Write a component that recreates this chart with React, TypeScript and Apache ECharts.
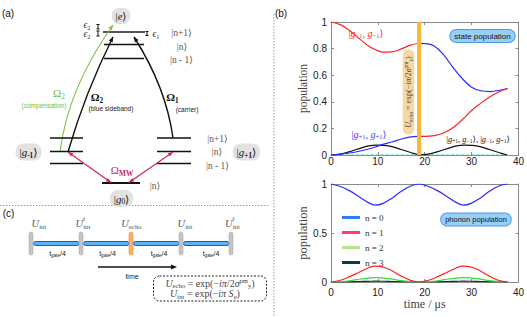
import React, { useEffect, useRef } from "react";
import * as echarts from "echarts";

const SERIF = "'Liberation Serif', 'DejaVu Serif', serif";
const SANS = "'Liberation Sans', 'DejaVu Sans', Arial, sans-serif";

// ---------- panel (b), top: state populations ----------
const timeTicks = [0, 10, 20, 30, 40];
const echoTime = 18.8;
const stateTimeFirst = [0, 2, 4, 6, 8, 9.6, 11, 13, 15, 17, 18.8];
const redFirst = [1, 0.98, 0.935, 0.875, 0.82, 0.79, 0.774, 0.776, 0.798, 0.826, 0.84];
const blueFirst = [0, 0.006, 0.015, 0.028, 0.045, 0.062, 0.08, 0.098, 0.12, 0.136, 0.14];
const blackFirst = [0, 0.007, 0.025, 0.048, 0.068, 0.075, 0.073, 0.063, 0.041, 0.019, 0];
const stateTimeSecond = [18.8, 20, 22, 24, 26, 28, 30, 32, 34, 36, 37.7];
const redSecond = [0.14, 0.14, 0.145, 0.165, 0.205, 0.265, 0.335, 0.39, 0.44, 0.478, 0.5];
const blueSecond = [0.84, 0.838, 0.82, 0.755, 0.66, 0.575, 0.51, 0.483, 0.477, 0.487, 0.5];
const blackTimeSecond = [18.8, 20.8, 22.8, 24.8, 26.8, 28.4, 29.8, 31.8, 33.8, 35.8, 37.6];
const blackSecond = [0, 0.007, 0.025, 0.048, 0.068, 0.075, 0.073, 0.063, 0.041, 0.019, 0];
const baselineTime = [0, 37.7];
const baselineValue = [0, 0];
const echoSpan = [0, 1];

// ---------- panel (b), bottom: phonon populations ----------
const phononTime = [0, 2, 4, 6, 8, 9.4, 11, 13, 15, 17, 18.8, 20.8, 22.8, 24.8, 26.8, 28.2, 29.8, 31.8, 33.8, 35.8, 37.7];
const n0 = [1, 0.975, 0.93, 0.87, 0.81, 0.785, 0.8, 0.855, 0.925, 0.98, 1, 0.975, 0.93, 0.87, 0.81, 0.785, 0.8, 0.855, 0.925, 0.98, 1];
const n1 = [0, 0.018, 0.055, 0.1, 0.145, 0.162, 0.155, 0.115, 0.06, 0.017, 0, 0.018, 0.055, 0.1, 0.145, 0.162, 0.155, 0.115, 0.06, 0.017, 0];
const n2 = [0, 0.004, 0.013, 0.028, 0.04, 0.045, 0.042, 0.03, 0.014, 0.004, 0, 0.004, 0.013, 0.028, 0.04, 0.045, 0.042, 0.03, 0.014, 0.004, 0];
const n3 = [0, 0.0005, 0.002, 0.005, 0.007, 0.008, 0.0075, 0.005, 0.002, 0.0005, 0, 0.0005, 0.002, 0.005, 0.007, 0.008, 0.0075, 0.005, 0.002, 0.0005, 0];
const phononNames = ["n = 0", "n = 1", "n = 2", "n = 3"];
const phononCurveColors = ["#2b2bff", "#ff2222", "#33dd33", "#0b2a30"];
const phononLegendColors = ["#2f7bf7", "#ff3d6e", "#b5e68f", "#0c3b48"];

const zip = (xs: number[], ys: number[]) => xs.map((x, i) => [x, ys[i]]);

function rich(size: number, color: string, family = SERIF) {
  const lh = Math.round(size * 1.2 * 10) / 10;
  const sub = Math.round(size * 0.66 * 10) / 10;
  return {
    n: { fontFamily: family, fontSize: size, fill: color, lineHeight: lh },
    i: { fontFamily: family, fontSize: size, fill: color, fontStyle: "italic", lineHeight: lh },
    b: { fontFamily: family, fontSize: size, fill: color, fontWeight: "bold", lineHeight: lh },
    s: { fontFamily: family, fontSize: sub, fill: color, verticalAlign: "bottom", lineHeight: sub },
    sb: { fontFamily: family, fontSize: sub, fill: color, fontWeight: "bold", verticalAlign: "bottom", lineHeight: sub },
    sup: { fontFamily: family, fontSize: sub, fill: color, verticalAlign: "top", lineHeight: sub },
  };
}

const txt = (x: number, y: number, text: string, style: any = {}, extra: any = {}) => ({
  type: "text",
  x,
  y,
  silent: true,
  ...extra,
  style: { text, align: "center", verticalAlign: "middle", ...style },
});
const mtxt = (x: number, y: number, text: string, size: number, color: string, style: any = {}, extra: any = {}) =>
  txt(x, y, text, { rich: rich(size, color), fontFamily: SERIF, fontSize: size, fill: color, ...style }, extra);
const ln = (x1: number, y1: number, x2: number, y2: number, stroke = "#111", lineWidth = 1.5, style: any = {}) => ({
  type: "line",
  silent: true,
  shape: { x1, y1, x2, y2 },
  style: { stroke, lineWidth, ...style },
});
const head = (tx: number, ty: number, fx: number, fy: number, color: string, len = 5, wid = 2.2) => {
  const dx = tx - fx, dy = ty - fy;
  const d = Math.hypot(dx, dy);
  const ux = dx / d, uy = dy / d;
  const bx = tx - ux * len, by = ty - uy * len;
  return {
    type: "polygon",
    silent: true,
    shape: { points: [[tx, ty], [bx - uy * wid, by + ux * wid], [bx + uy * wid, by - ux * wid]] },
    style: { fill: color },
  };
};
const curve = (x1: number, y1: number, cx: number, cy: number, x2: number, y2: number, color: string, w = 1.4) => [
  { type: "bezierCurve", silent: true, shape: { x1, y1, x2, y2, cpx1: cx, cpy1: cy }, style: { stroke: color, lineWidth: w, fill: null } },
  head(x2, y2, cx, cy, color),
];
const dblArrow = (x1: number, y1: number, x2: number, y2: number, color: string) => [
  ln(x1, y1, x2, y2, color, 1.2),
  head(x1, y1, x2, y2, color, 5, 2),
  head(x2, y2, x1, y1, color, 5, 2),
];
const pill = (x: number, y: number, text: string, size: number) =>
  mtxt(x, y, text, size, "#111", { backgroundColor: "#e2e2e2", borderRadius: 8, padding: [2, 4, 2, 4] });

function buildGraphic() {
  const g: any[] = [];
  // separators
  g.push(ln(274, 14, 274, 317, "#999", 1, { lineDash: [1.5, 1.5] }));
  g.push(ln(0, 205.5, 268, 205.5, "#999", 1, { lineDash: [1.5, 1.5] }));
  // panel labels
  g.push(txt(8, 13, "(a)", { fontFamily: SANS, fontSize: 10, fill: "#111" }));
  g.push(txt(281, 13, "(b)", { fontFamily: SANS, fontSize: 10, fill: "#111" }));
  g.push(txt(8.5, 213, "(c)", { fontFamily: SANS, fontSize: 10, fill: "#111" }));

  // ---- panel (a) ----
  g.push(pill(121, 16, "{n||}{i|e}{n|⟩}", 10.5));
  g.push(ln(103, 32, 145, 32, "#555", 2));
  g.push(ln(104, 44.5, 144, 44.5, "#111", 1.5));
  g.push(ln(104, 58.5, 144, 58.5, "#111", 1.5));
  // epsilon markers
  const ibar = (x: number, y1: number, y2: number) => [
    ln(x, y1, x, y2, "#111", 1),
    ln(x - 1.5, y1, x + 1.5, y1, "#111", 1),
    ln(x - 1.5, y2, x + 1.5, y2, "#111", 1),
  ];
  g.push(...ibar(98, 24.5, 29), ...ibar(98, 31, 36), ...ibar(147, 31.5, 35.5));
  g.push(mtxt(87, 25, "{i|ϵ}{s|2}", 9.5, "#333"));
  g.push(mtxt(87, 34, "{i|ϵ}{s|2}", 9.5, "#333"));
  g.push(mtxt(156, 34, "{i|ϵ}{s|1}", 9.5, "#333"));
  g.push(txt(181.5, 33, "|n+1⟩", { fontFamily: SERIF, fontSize: 9.5, fill: "#555" }));
  g.push(txt(182, 46.5, "|n⟩", { fontFamily: SERIF, fontSize: 9.5, fill: "#555" }));
  g.push(txt(181.5, 60, "|n - 1⟩", { fontFamily: SERIF, fontSize: 9.5, fill: "#555" }));
  // arrows
  g.push(...curve(60, 152, 68, 88, 113, 25, "#7cc444", 1.1));
  g.push(...curve(68, 152, 85, 93, 113, 37, "#111", 1.4));
  g.push(...curve(173, 138, 166, 87, 134, 37, "#111", 1.4));
  g.push(mtxt(59, 93, "{n|Ω}{s|2}", 11, "#6cbf3f"));
  g.push(txt(44, 105, "(compensation)", { fontFamily: SANS, fontSize: 6.5, fill: "#6cbf3f" }));
  g.push(mtxt(97, 97, "{b|Ω}{sb|2}", 11, "#111"));
  g.push(txt(111, 108.5, "(blue sideband)", { fontFamily: SANS, fontSize: 6.5, fill: "#222" }));
  g.push(mtxt(172.5, 97, "{b|Ω}{sb|1}", 11, "#111"));
  g.push(txt(187, 109, "(carrier)", { fontFamily: SANS, fontSize: 6.5, fill: "#222" }));
  // ground levels
  for (const y of [138, 151.5, 163.5]) {
    g.push(ln(50, y, 83, y, "#111", 1.5));
    g.push(ln(157, y, 191, y, "#111", 1.5));
  }
  g.push(ln(102, 183, 140, 183, "#111", 2));
  g.push(pill(28.5, 152, "{n||}{i|g}{sb|-1}{n|⟩}", 11));
  g.push(pill(246.5, 152, "{n||}{i|g}{sb|+1}{n|⟩}", 11));
  g.push(txt(217.5, 139, "|n+1⟩", { fontFamily: SERIF, fontSize: 9.5, fill: "#555" }));
  g.push(txt(217, 152, "|n⟩", { fontFamily: SERIF, fontSize: 9.5, fill: "#555" }));
  g.push(txt(217.5, 166, "|n - 1⟩", { fontFamily: SERIF, fontSize: 9.5, fill: "#555" }));
  g.push(txt(155, 186, "|n⟩", { fontFamily: SERIF, fontSize: 9.5, fill: "#555" }));
  g.push(pill(121.5, 198.5, "{n||}{i|g}{s|0}{n|⟩}", 11));
  g.push(...dblArrow(68, 152, 111, 182.5, "#c7285d"));
  g.push(...dblArrow(173, 152, 129, 182.5, "#c7285d"));
  g.push(mtxt(122, 170, "{n|Ω}{sb|MW}", 11, "#c7285d"));

  // ---- panel (c) ----
  const barY = 241.5, barH = 4;
  const segs = [[33.5, 79], [83.5, 129], [133.5, 179], [183.5, 229]];
  for (const [a, b] of segs) {
    g.push({ type: "rect", silent: true, shape: { x: a, y: barY, width: b - a, height: barH, r: 2 }, style: { fill: "#5fb2f2", stroke: "#1558d6", lineWidth: 1 } });
  }
  const posts = [31, 81, 131, 181, 231];
  posts.forEach((x, i) => {
    const orange = i === 2;
    g.push({ type: "rect", silent: true, shape: { x: x - 2, y: 232, width: 4, height: 23, r: 2 }, style: { fill: orange ? "#f9b067" : "#c4c4c4", stroke: orange ? "#f0903a" : "#b0b0b0", lineWidth: 0.6 } });
  });
  g.push(mtxt(39, 223.5, "{i|U}{s|int}", 10.5, "#555"));
  g.push(mtxt(83, 223.5, "{i|U}{s|int}", 10.5, "#555"));
  g.push(txt(84, 218.5, "†", { fontFamily: SERIF, fontSize: 7, fill: "#555" }));
  g.push(mtxt(131.5, 223.5, "{i|U}{s|echo}", 10.5, "#555"));
  g.push(mtxt(185, 223.5, "{i|U}{s|int}", 10.5, "#555"));
  g.push(mtxt(232.5, 223.5, "{i|U}{s|int}", 10.5, "#555"));
  g.push(txt(233.5, 218.5, "†", { fontFamily: SERIF, fontSize: 7, fill: "#555" }));
  const tg = { rich: rich(7, "#222", SANS), fontFamily: SANS, fontSize: 7, fill: "#222" };
  for (const cx of [57.5, 107.5, 159, 211]) g.push(txt(cx, 253.5, "{n|t}{s|gate}{n|/4}", tg));
  g.push(ln(98, 267, 172, 267, "#111", 1.5));
  g.push(head(177, 267, 98, 267, "#111", 6, 2.6));
  g.push(txt(132, 276, "time", { fontFamily: SANS, fontSize: 7, fill: "#222" }));
  g.push({ type: "rect", silent: true, shape: { x: 153.5, y: 276, width: 113, height: 25, r: 6 }, style: { fill: null, stroke: "#222", lineWidth: 1, lineDash: [2, 1.5] } });
  g.push(mtxt(210, 283, "{i|U}{s|echo}{n| = exp(−}{i|iπ}{n|/2}{i|σ}{sup|pm}{s|y}{n|)}", 10, "#444"));
  g.push(mtxt(205, 293.5, "{i|U}{s|int}{n| = exp(−}{i|iπ S}{s|e}{n|)}", 10, "#444"));

  // ---- panel (b) annotations ----
  g.push(mtxt(366, 33, "{n||}{i|g}{s|−1}{n|, }{i|g}{s|−1}{n|⟩}", 10, "#ff2222"));
  g.push(mtxt(369, 134, "{n||}{i|g}{s|+1}{n|, }{i|g}{s|+1}{n|⟩}", 10, "#3a3aff"));
  g.push(mtxt(478, 138.5, "{n||}{i|g}{s|+1}{n|, }{i|g}{s|−1}{n|⟩, |}{i|g}{s|−1}{n|, }{i|g}{s|+1}{n|⟩}", 8.5, "#111"));
  g.push(mtxt(408.5, 92, "{i|U}{s|echo}{n| = exp(−}{i|iπ}{n|/2}{i|σ}{sup|pm}{s|y}{n|)}", 8, "#444",
    { backgroundColor: "#f6d8a4", borderRadius: 6, padding: [1, 7, 1, 7] }, { rotation: Math.PI / 2 }));
  g.push(txt(482.5, 36, "state population", { fontFamily: SANS, fontSize: 8, fill: "#111", backgroundColor: "#98cff6", borderColor: "#4a9be8", borderWidth: 1, borderRadius: 7, padding: [2, 4, 2, 4] }));
  g.push(txt(476, 219.5, "phonon population", { fontFamily: SANS, fontSize: 7.5, fill: "#111", backgroundColor: "#98cff6", borderColor: "#4a9be8", borderWidth: 1, borderRadius: 7, padding: [2, 4, 2, 4] }));
  return g;
}

function axisPair(gridIndex: number, isX: boolean, opts: any) {
  const common = {
    gridIndex,
    type: "value",
    axisLine: { show: true, onZero: false, lineStyle: { color: "#8a8a8a", width: 1 } },
    axisTick: { show: true, inside: true, length: 3, lineStyle: { color: "#8a8a8a" } },
    splitLine: { show: false },
    ...opts.range,
  };
  const main = {
    ...common,
    position: isX ? "bottom" : "left",
    axisLabel: { color: "#222", fontSize: 10, fontFamily: SANS, margin: opts.margin },
    ...opts.name,
  };
  const mirror = { ...common, position: isX ? "top" : "right", axisLabel: { show: false } };
  return [main, mirror];
}

export default function App() {
  const ref = useRef<HTMLDivElement>(null);
  useEffect(() => {
    if (!ref.current) return;
    const chart = echarts.init(ref.current, undefined, { renderer: "svg" });
    const xRange = { range: { min: timeTicks[0], max: timeTicks[timeTicks.length - 1], interval: 10 } };
    const xAxis = [
      ...axisPair(0, true, { ...xRange, margin: 1 }),
      ...axisPair(1, true, {
        ...xRange,
        margin: 5,
        name: {
          name: "time / μs",
          nameLocation: "middle",
          nameGap: 14,
          nameTextStyle: { fontFamily: SERIF, fontSize: 12, fontWeight: "normal", color: "#444", verticalAlign: "top" },
        },
      }),
    ];
    const yName = (size: number) => ({
      name: "population",
      nameLocation: "middle",
      nameGap: 20,
      nameTextStyle: { fontFamily: SERIF, fontSize: size, fontWeight: "normal", color: "#444" },
    });
    const yAxis = [
      ...axisPair(0, false, { range: { min: 0, max: 1, interval: 0.2 }, margin: 4, name: yName(11.5) }),
      ...axisPair(1, false, { range: { min: 0, max: 1, interval: 0.5 }, margin: 4, name: yName(12.5) }),
    ];
    const lineS = (name: string, data: number[][], color: string, xi: number, extra: any = {}) => ({
      name,
      type: "line",
      xAxisIndex: xi,
      yAxisIndex: xi,
      data,
      smooth: 0.4,
      showSymbol: false,
      symbol: "none",
      silent: true,
      lineStyle: { color, width: 1.2 },
      itemStyle: { color },
      ...extra,
    });
    const series: any[] = [
      lineS("baseline", zip(baselineTime, baselineValue), "#22cccc", 0, { lineStyle: { color: "#22cccc", width: 1, type: [3, 2] } }),
      lineS("black1", zip(stateTimeFirst, blackFirst), "#111", 0),
      lineS("black2", zip(blackTimeSecond, blackSecond), "#111", 0),
      lineS("blue1", zip(stateTimeFirst, blueFirst), "#2b2bff", 0),
      lineS("red1", zip(stateTimeFirst, redFirst), "#ff2222", 0),
      lineS("blue2", zip(stateTimeSecond, blueSecond), "#2b2bff", 0),
      lineS("red2", zip(stateTimeSecond, redSecond), "#ff2222", 0),
      lineS("echo", zip([echoTime, echoTime], echoSpan), "#f8b53c", 0, { smooth: false, lineStyle: { color: "#f8b53c", width: 4 } }),
    ];
    const phonon = [n0, n1, n2, n3];
    for (let k = 3; k >= 0; k--) {
      series.push(lineS(phononNames[k], zip(phononTime, phonon[k]), phononCurveColors[k], 2));
    }
    chart.setOption({
      animation: false,
      backgroundColor: "#ffffff",
      grid: [
        { left: 331, top: 22, width: 190, height: 133 },
        { left: 331, top: 184, width: 190, height: 98 },
      ],
      xAxis,
      yAxis,
      legend: {
        data: phononNames.map((n, i) => ({ name: n, itemStyle: { color: phononLegendColors[i] } })),
        orient: "vertical",
        left: 337,
        top: 207,
        icon: "rect",
        itemWidth: 18,
        itemHeight: 3,
        itemGap: 4,
        selectedMode: false,
        textStyle: { fontFamily: SERIF, fontSize: 9, color: "#333", lineHeight: 11 },
      },
      series,
      graphic: { elements: buildGraphic() },
    });
    return () => chart.dispose();
  }, []);
  return <div ref={ref} style={{ position: "fixed", left: 0, top: 0, width: 527, height: 317, background: "#fff" }} />;
}
